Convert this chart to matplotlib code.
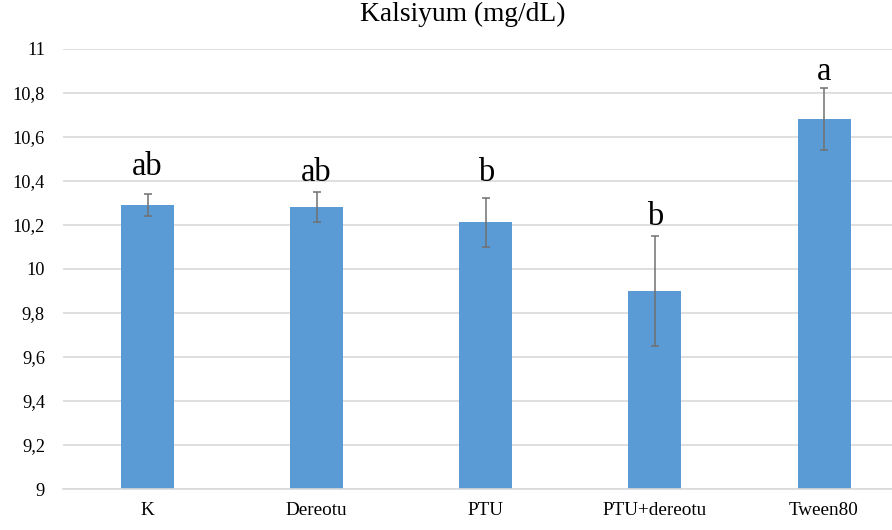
import matplotlib
matplotlib.use("Agg")
import matplotlib.pyplot as plt
from matplotlib.font_manager import FontProperties
from matplotlib.ticker import FuncFormatter, MultipleLocator

# Serum calcium by group
groups = ["K", "Dereotu", "PTU", "PTU+dereotu", "Tween80"]
means = [10.29, 10.28, 10.21, 9.90, 10.68]
errors = [0.05, 0.07, 0.11, 0.25, 0.14]
letters = ["ab", "ab", "b", "b", "a"]

# heights (data units) at which the significance letters sit
letter_y = [10.424, 10.397, 10.397, 10.197, 10.855]

SERIF = "Liberation Serif"


def fp(size):
    return FontProperties(family=SERIF, size=size)


fig = plt.figure(figsize=(8.92, 5.30), dpi=100)
ax = fig.add_axes([63 / 892, 41 / 530, 845.6 / 892, 440.5 / 530])

x = list(range(len(groups)))
ax.bar(x, means, width=0.313, color="#5B9BD5", zorder=2)
ax.errorbar(x, means, yerr=errors, fmt="none", ecolor="#707070",
            elinewidth=1.1, capsize=2.6, capthick=1.1, zorder=3)

for xi, lab, ly in zip(x, letters, letter_y):
    ax.text(xi, ly, lab, ha="center", va="baseline", fontproperties=fp(23.5), color="black")

ax.set_xlim(-0.5, len(groups) - 0.5)
ax.set_ylim(9, 11)
ax.yaxis.set_major_locator(MultipleLocator(0.2))
ax.yaxis.set_major_formatter(FuncFormatter(lambda v, p: f"{v:.1f}".rstrip("0").rstrip(".").replace(".", ",")))
ax.grid(axis="y", color="#D9D9D9", linewidth=1.2, zorder=0)
ax.set_axisbelow(True)
for s in ["top", "right", "left"]:
    ax.spines[s].set_visible(False)
ax.spines["bottom"].set_color("#D9D9D9")
ax.spines["bottom"].set_linewidth(1.2)

ax.set_xticks(x)
ax.set_xticklabels(groups)
ax.tick_params(axis="x", length=0, pad=9.5)
ax.tick_params(axis="y", length=0, pad=13)
for t in ax.get_xticklabels():
    t.set_fontproperties(fp(13.8))
for t in ax.get_yticklabels():
    t.set_fontproperties(fp(13.2))

fig.text(462.5 / 892, 1 - 14.5 / 530, "Kalsiyum (mg/dL)", ha="center", va="center",
         fontproperties=fp(19.8))

fig.savefig("out.png", dpi=100, facecolor="white")
